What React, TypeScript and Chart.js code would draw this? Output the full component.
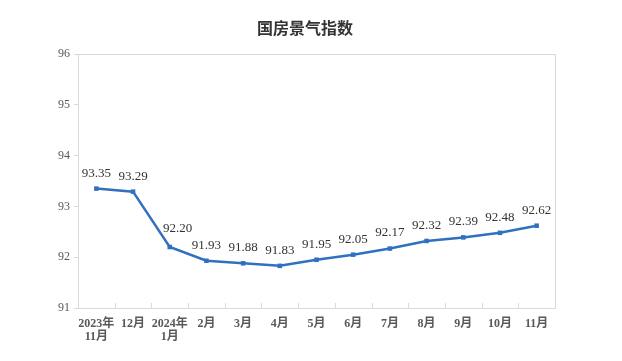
import React, { useEffect, useRef } from "react";
import { Chart, registerables } from "chart.js";

Chart.register(...registerables);

const chartTitle = "国房景气指数";
const categories: (string | string[])[] = [
  ["2023年", "11月"], "12月", ["2024年", "1月"], "2月", "3月", "4月", "5月", "6月", "7月", "8月", "9月", "10月", "11月",
];
const indexValues = [93.35, 93.29, 92.2, 91.93, 91.88, 91.83, 91.95, 92.05, 92.17, 92.32, 92.39, 92.48, 92.62];
const yTicks = [91, 92, 93, 94, 95, 96];

const frameColor = "#d9d9d9";

const framePlugin = {
  id: "frame",
  afterDraw(chart: any) {
    const { ctx, chartArea } = chart;
    const { left, right, top, bottom } = chartArea;
    ctx.save();
    ctx.strokeStyle = frameColor;
    ctx.lineWidth = 1;
    ctx.beginPath();
    ctx.moveTo(left, top + 0.5);
    ctx.lineTo(right + 0.5, top + 0.5);
    ctx.lineTo(right + 0.5, bottom);
    ctx.stroke();
    const xs = chart.scales.x;
    const n = categories.length;
    ctx.beginPath();
    for (let i = 1; i < n; i++) {
      const x = Math.round((xs.getPixelForTick(i - 1) + xs.getPixelForTick(i)) / 2) + 0.5;
      ctx.moveTo(x, bottom);
      ctx.lineTo(x, bottom - 5);
    }
    ctx.stroke();
    // title
    ctx.font = 'bold 16px "Noto Sans CJK SC", sans-serif';
    ctx.fillStyle = "#333333";
    ctx.textAlign = "center";
    ctx.textBaseline = "middle";
    ctx.fillText(chartTitle, chart.width / 2 - 6, 20);
    ctx.restore();
  },
};

const labelPlugin = {
  id: "valueLabels",
  afterDatasetsDraw(chart: any) {
    const { ctx } = chart;
    const meta = chart.getDatasetMeta(0);
    ctx.save();
    ctx.font = '13px "Liberation Serif", serif';
    ctx.fillStyle = "#333333";
    ctx.textAlign = "center";
    ctx.textBaseline = "bottom";
    meta.data.forEach((pt: any, i: number) => {
      const prev = i > 0 ? indexValues[i - 1] : indexValues[i];
      const steepDrop = prev - indexValues[i] > 0.5;
      ctx.fillText(indexValues[i].toFixed(2), pt.x + (steepDrop ? 8 : 0), pt.y - (steepDrop ? 12 : 9));
    });
    ctx.restore();
  },
};

export default function App() {
  const ref = useRef<HTMLCanvasElement | null>(null);
  useEffect(() => {
    if (!ref.current) return;
    const chart = new Chart(ref.current, {
      type: "line",
      data: {
        labels: categories,
        datasets: [
          {
            data: indexValues,
            borderColor: "#3070c0",
            backgroundColor: "#3070c0",
            borderWidth: 2.5,
            pointStyle: "rect",
            pointRadius: 3.2,
            pointBorderWidth: 0,
            tension: 0,
          },
        ],
      },
      options: {
        animation: false,
        responsive: false,
        devicePixelRatio: 1,
        layout: { padding: { left: 0, right: 59, top: 46, bottom: 0 } },
        plugins: {
          legend: { display: false },
          tooltip: { enabled: false },
          title: { display: false },
        },
        scales: {
          x: {
            offset: true,
            grid: { display: false, drawTicks: false },
            border: { display: true, color: frameColor, width: 1 },
            ticks: {
              color: "#595959",
              padding: 10,
              maxRotation: 0,
              autoSkip: false,
              font: { size: 12, family: '"Liberation Serif", "Noto Sans CJK SC", serif', weight: "bold", lineHeight: 1.05 },
            },
            afterFit: (s: any) => {
              s.height = 45;
            },
          },
          y: {
            min: 91,
            max: 96,
            afterBuildTicks: (s: any) => {
              s.ticks = yTicks.map((v) => ({ value: v }));
            },
            grid: { drawOnChartArea: false, drawTicks: true, tickLength: 4, color: frameColor },
            border: { display: true, color: frameColor, width: 1 },
            ticks: {
              color: "#595959",
              padding: 4,
              font: { size: 12, family: '"Liberation Serif", serif' },
            },
            afterFit: (s: any) => {
              s.width = 70;
            },
          },
        },
      },
      plugins: [framePlugin, labelPlugin],
    });
    return () => chart.destroy();
  }, []);
  return <canvas ref={ref} width={606} height={345} style={{ display: "block" }} />;
}
